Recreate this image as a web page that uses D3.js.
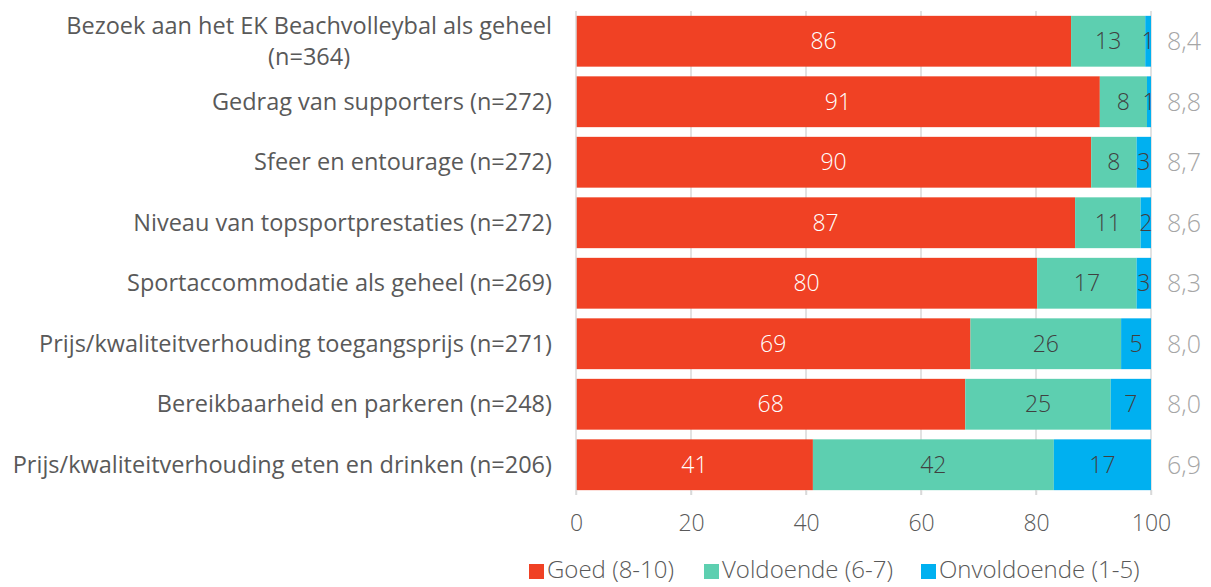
<!DOCTYPE html>
<html>
<head>
<meta charset="utf-8">
<script src="https://cdn.jsdelivr.net/npm/d3@7"></script>
<style>
  body { margin: 0; background: #fff; }
  text { font-family: "Open Sans", Lato, sans-serif; }
</style>
</head>
<body>
<svg id="chart" width="1211" height="587"></svg>
<script>
// categories (top to bottom)
var categories = [
  ["Bezoek aan het EK Beachvolleybal als geheel", "(n=364)"],
  ["Gedrag van supporters (n=272)"],
  ["Sfeer en entourage (n=272)"],
  ["Niveau van topsportprestaties (n=272)"],
  ["Sportaccommodatie als geheel (n=269)"],
  ["Prijs/kwaliteitverhouding toegangsprijs (n=271)"],
  ["Bereikbaarheid en parkeren (n=248)"],
  ["Prijs/kwaliteitverhouding eten en drinken (n=206)"]
];
var goed        = [86.1, 91.1, 89.6, 86.8, 80.2, 68.6, 67.7, 41.2];
var voldoende   = [12.9,  8.2,  7.9, 11.4, 17.3, 26.2, 25.3, 41.9];
var onvoldoende = [ 1.0,  0.7,  2.5,  1.8,  2.5,  5.2,  7.0, 16.9];
var cijfers = ["8,4", "8,8", "8,7", "8,6", "8,3", "8,0", "8,0", "6,9"];
var seriesNames = ["Goed (8-10)", "Voldoende (6-7)", "Onvoldoende (1-5)"];
var colors = ["#f04124", "#5dcfb0", "#00b0f0"];
var labelColors = ["#ffffff", "#404040", "#404040"];
var xTicks = [0, 20, 40, 60, 80, 100];

var fs = 23;
var svg = d3.select("#chart");
var x = d3.scaleLinear().domain([0, 100]).range([576, 1151]);
var y = d3.scaleBand().domain(d3.range(categories.length)).range([11, 495]).paddingInner(0.16).paddingOuter(0.08);

// gridlines
svg.append("g").selectAll("line")
  .data(xTicks.slice(1))
  .enter().append("line")
  .attr("x1", function(d) { return x(d); }).attr("x2", function(d) { return x(d); })
  .attr("y1", 11).attr("y2", 495)
  .attr("stroke", "#d9d9d9").attr("stroke-width", 1.5);

// stacked data
var rows = categories.map(function(c, i) {
  return { i: i, vals: [goed[i], voldoende[i], onvoldoende[i]] };
});
var stack = d3.stack().keys([0, 1, 2]).value(function(d, k) { return d.vals[k]; });
var layers = stack(rows);

var g = svg.append("g");
layers.forEach(function(layer, k) {
  var lg = g.append("g");
  lg.selectAll("rect")
    .data(layer)
    .enter().append("rect")
    .attr("x", function(d) { return x(d[0]); })
    .attr("width", function(d) { return x(d[1]) - x(d[0]); })
    .attr("y", function(d) { return y(d.data.i); })
    .attr("height", y.bandwidth())
    .attr("fill", colors[k]);
  lg.selectAll("text")
    .data(layer)
    .enter().append("text")
    .attr("x", function(d) { return (x(d[0]) + x(d[1])) / 2; })
    .attr("y", function(d) { return y(d.data.i) + y.bandwidth() / 2; })
    .attr("dy", "0.35em")
    .attr("text-anchor", "middle")
    .attr("font-size", fs)
    .attr("font-weight", 300)
    .attr("fill", labelColors[k])
    .text(function(d) { return Math.round(d[1] - d[0]); });
});

// axis line at 0
svg.append("line")
  .attr("x1", x(0)).attr("x2", x(0)).attr("y1", 11).attr("y2", 495)
  .attr("stroke", "#d9d9d9").attr("stroke-width", 1.5);

// x axis
var xAxis = svg.append("g")
  .attr("transform", "translate(0,490)")
  .call(d3.axisBottom(x).tickValues(xTicks).tickSize(5).tickPadding(20));
xAxis.select(".domain").remove();
xAxis.selectAll("line").attr("stroke", "#d9d9d9").attr("stroke-width", 1.5);
xAxis.selectAll("text").attr("font-size", fs).attr("fill", "#595959").attr("font-weight", 300)
  .style("font-family", "'Open Sans', Lato, sans-serif");

// category labels
var cl = svg.append("g").selectAll("text")
  .data(categories)
  .enter().append("text")
  .attr("font-size", 23.5)
  .attr("fill", "#595959")
  .attr("y", function(d, i) { return y(i) + y.bandwidth() / 2 - (d.length - 1) * 15; });
cl.each(function(d) {
  var t = d3.select(this);
  d.forEach(function(line, j) {
    t.append("tspan")
      .attr("x", 552)
      .attr("text-anchor", "end")
      .attr("dy", j === 0 ? "0.35em" : "1.28em")
      .text(line);
  });
});
// second line of first label sits centred under the first line
cl.filter(function(d) { return d.length > 1; }).each(function() {
  var spans = d3.select(this).selectAll("tspan");
  var first = spans.nodes()[0].getComputedTextLength();
  spans.filter(function(d, j) { return j === 1; })
    .attr("x", 552 - first / 2).attr("text-anchor", "middle");
});

// average grades
svg.append("g").selectAll("text")
  .data(cijfers)
  .enter().append("text")
  .attr("x", 1167)
  .attr("y", function(d, i) { return y(i) + y.bandwidth() / 2; })
  .attr("dy", "0.35em")
  .attr("font-size", 25)
  .attr("font-weight", 300)
  .attr("fill", "#a6a6a6")
  .text(function(d) { return d; });

// legend
var leg = svg.append("g").attr("transform", "translate(0,570)");
var lx = [529, 704, 921];
seriesNames.forEach(function(name, k) {
  leg.append("rect").attr("x", lx[k]).attr("y", -6).attr("width", 15).attr("height", 15).attr("fill", colors[k]);
  leg.append("text").attr("x", lx[k] + 18).attr("y", 0).attr("dy", "0.35em")
    .attr("font-size", 24).attr("font-weight", 300).attr("fill", "#595959").text(name);
});
</script>
</body>
</html>
